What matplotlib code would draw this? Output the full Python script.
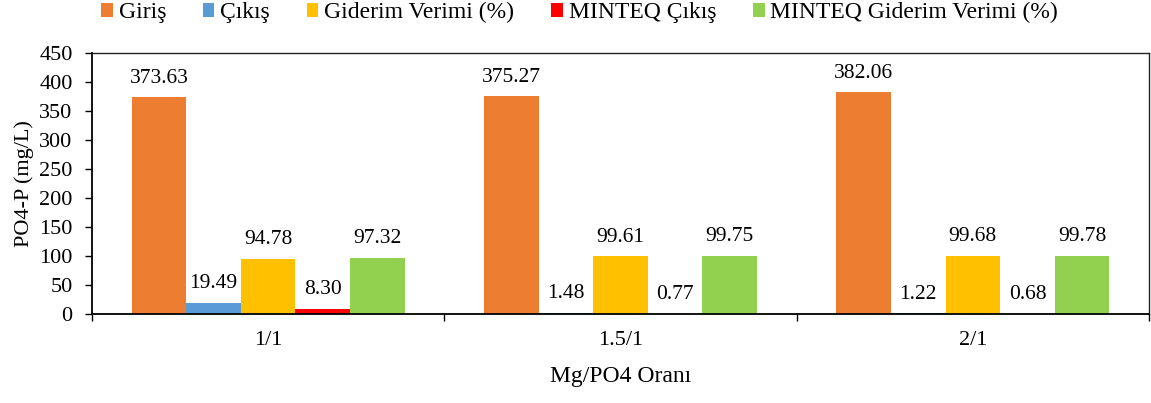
import matplotlib
matplotlib.use("Agg")
import matplotlib.pyplot as plt
import numpy as np
from matplotlib.ticker import FixedLocator, NullFormatter, FixedFormatter

plt.rcParams['font.family'] = ['Liberation Serif', 'DejaVu Serif']

categories = ["1/1", "1.5/1", "2/1"]
series_names = ["Giriş", "Çıkış", "Giderim Verimi (%)", "MINTEQ Çıkış",
                "MINTEQ Giderim Verimi (%)"]
giris = [373.63, 375.27, 382.06]
cikis = [19.49, 1.48, 1.22]
giderim = [94.78, 99.61, 99.68]
minteq_cikis = [8.30, 0.77, 0.68]
minteq_giderim = [97.32, 99.75, 99.78]
series_values = [giris, cikis, giderim, minteq_cikis, minteq_giderim]
colors = ["#ED7D31", "#5B9BD5", "#FFC000", "#FF0000", "#92D050"]

FS_LABEL = 15.5   # data labels
FS_TICK = 16
FS_TITLE = 17

fig = plt.figure(figsize=(11.51, 4.03), dpi=100)
ax = fig.add_axes([0.0799, 0.2208, 0.9184, 0.6477])

x = np.arange(len(categories))
bar_w = 0.155
n = len(series_values)
handles = []
for i, (vals, col, name) in enumerate(zip(series_values, colors, series_names)):
    offs = (i - (n - 1) / 2) * bar_w
    bars = ax.bar(x + offs, vals, width=bar_w, color=col, label=name, zorder=2)
    handles.append(bars)
    for xi, v in zip(x + offs, vals):
        ax.annotate(f"{v:.2f}", (xi, v), xytext=(0, 7), textcoords="offset points",
                    ha="center", va="bottom", fontsize=FS_LABEL)

ax.set_xlim(-0.5, len(categories) - 0.5)
ax.set_ylim(0, 450)
ax.set_yticks(np.arange(0, 451, 50))
ax.tick_params(axis="y", direction="out", length=5, width=1, labelsize=FS_TICK, pad=9)

# category boundaries as major ticks, names centred as minor ticks
ax.xaxis.set_major_locator(FixedLocator(np.arange(-0.5, len(categories), 1.0)))
ax.xaxis.set_major_formatter(NullFormatter())
ax.xaxis.set_minor_locator(FixedLocator(x))
ax.xaxis.set_minor_formatter(FixedFormatter(categories))
ax.tick_params(axis="x", which="major", direction="out", length=5, width=1)
ax.tick_params(axis="x", which="minor", length=0, labelsize=FS_TICK, pad=12)

for s in ["left", "bottom"]:
    ax.spines[s].set_linewidth(1.3)
    ax.spines[s].set_color("black")
for s in ["top", "right"]:
    ax.spines[s].set_linewidth(1.0)
    ax.spines[s].set_color("#222222")

ax.set_ylabel("PO4-P (mg/L)", fontsize=FS_TICK, labelpad=4)
ax.set_xlabel("Mg/PO4 Oranı", fontsize=FS_TITLE, labelpad=12)

fig.legend(handles=handles, labels=series_names, loc="center",
           bbox_to_anchor=(0.5035, 0.968), ncol=5, frameon=False, fontsize=FS_TITLE,
           handlelength=0.5, handleheight=0.5, handletextpad=0.25,
           columnspacing=1.55)

fig.savefig("out.png", dpi=100)
